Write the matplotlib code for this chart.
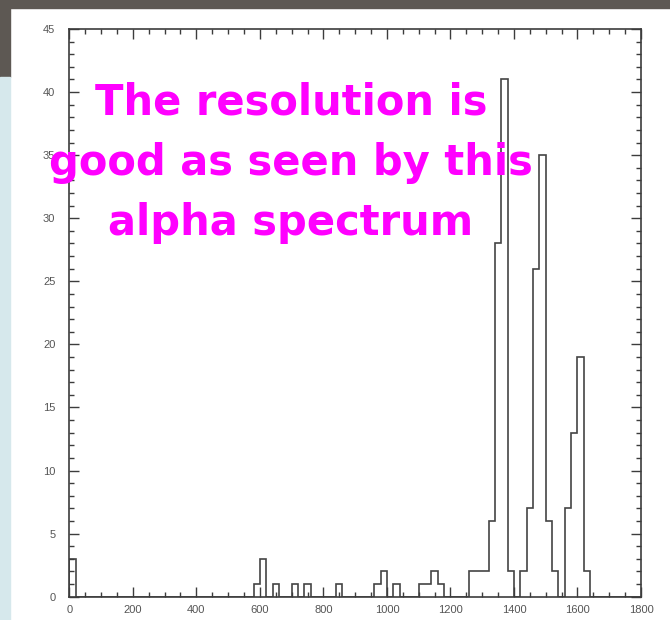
import numpy as np
import matplotlib
matplotlib.use("Agg")
import matplotlib.pyplot as plt
from matplotlib.patches import Rectangle

# alpha spectrum, 20-channel bins
bin_lo = [0, 580, 600, 640, 700, 740, 840, 960, 980, 1020,
          1100, 1120, 1140, 1160, 1260, 1280, 1300, 1320, 1340, 1360,
          1380, 1420, 1440, 1460, 1480, 1500, 1520, 1560, 1580, 1600, 1620]
counts = [3, 1, 3, 1, 1, 1, 1, 1, 2, 1,
          1, 1, 2, 1, 2, 2, 2, 6, 28, 41,
          2, 2, 7, 26, 35, 6, 2, 7, 13, 19, 2]
bin_width = 20
x_max = 1800
y_max = 45
xticks = np.arange(0, 1801, 200)
yticks = np.arange(0, 46, 5)
caption = "The resolution is\ngood as seen by this\nalpha spectrum"

edges = np.arange(0, x_max + bin_width, bin_width)
h = np.zeros(len(edges) - 1)
for lo, c in zip(bin_lo, counts):
    h[lo // bin_width] = c

fig = plt.figure(figsize=(6.7, 6.2), dpi=100)
fig.patch.set_facecolor("white")

# slide background bits (dark header, blue side strip)
W, H = 670., 620.
fig.patches.append(Rectangle((0, 1 - 8/H), 1, 8/H, transform=fig.transFigure,
                             color="#5d5853", zorder=0))
fig.patches.append(Rectangle((0, 1 - 77/H), 10/W, 77/H, transform=fig.transFigure,
                             color="#5d5853", zorder=0))
fig.patches.append(Rectangle((0, 0), 10/W, 1 - 77/H, transform=fig.transFigure,
                             color="#d6e8ec", zorder=0))

ax = fig.add_axes([69.3/W, 1 - 596.7/H, (641 - 69.3)/W, (596.7 - 29)/H])
ax.stairs(h, edges, color="#444444", lw=1.2)

ax.set_xlim(0, x_max)
ax.set_ylim(0, y_max)
ax.set_xticks(xticks)
ax.set_yticks(yticks)
ax.set_xticks(np.arange(0, 1801, 50), minor=True)
ax.set_yticks(np.arange(0, 46, 1), minor=True)
ax.tick_params(which="both", direction="in", top=True, right=True,
               color="#3c3c3c", width=1.0)
ax.tick_params(which="major", length=7, labelsize=8, labelcolor="#555555", pad=6)
ax.tick_params(which="minor", length=3.5)
ax.tick_params(axis="y", pad=10)
for lab in ax.get_xticklabels() + ax.get_yticklabels():
    lab.set_family("Liberation Sans")
for s in ax.spines.values():
    s.set_color("#3c3c3c")
    s.set_linewidth(1.2)

# caption sits on top of the plot, as on the slide
fig.text(291/W, 1 - 163/H, caption, ha="center", va="center",
         multialignment="center", color="#ff00ff", fontsize=30,
         fontweight="bold", family="DejaVu Sans", linespacing=1.55, zorder=10)

fig.savefig("out.png", dpi=100)
